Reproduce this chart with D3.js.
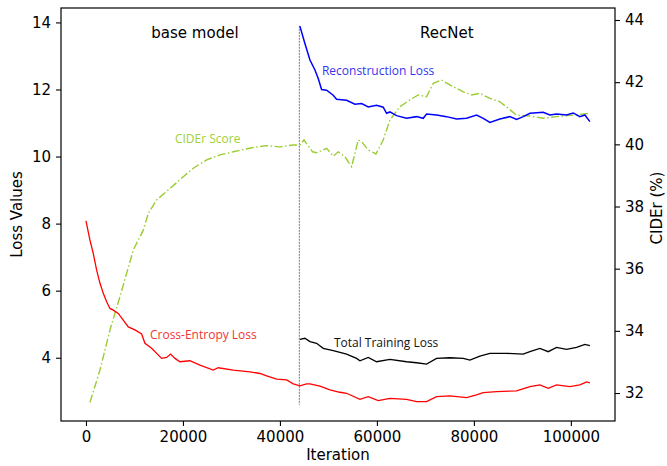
<!DOCTYPE html>
<html>
<head>
<meta charset="utf-8">
<script src="https://cdn.jsdelivr.net/npm/d3@7"></script>
<style>
  body { margin: 0; background: #fff; }
  svg { display: block; }
  .tick text { font-family: "DejaVu Sans", sans-serif; font-size: 15px; fill: #000; }
</style>
</head>
<body>
<div id="chart"></div>
<script>
// loss curves (iteration, value)
const crossEntropy = [
  [0, 8.08], [820, 7.51], [1500, 7.11], [2200, 6.61], [2890, 6.22], [3570, 5.92], [4260, 5.67],
  [4950, 5.47], [5630, 5.42], [6660, 5.32], [7690, 5.12], [8720, 4.92], [10100, 4.83], [11480, 4.71],
  [12160, 4.43], [13540, 4.28], [15600, 3.98], [16640, 4.01], [17460, 4.11], [18350, 3.98], [19380, 3.88],
  [21440, 3.91], [23500, 3.78], [26250, 3.63], [27280, 3.70], [30370, 3.63], [33810, 3.58],
  [35880, 3.53], [37250, 3.46], [39310, 3.36], [41380, 3.34], [42750, 3.22], [44120, 3.16],
  [45500, 3.22], [46190, 3.22], [48250, 3.15], [50310, 3.04], [52370, 2.97], [53750, 2.94],
  [56500, 2.76], [58210, 2.84], [60270, 2.72], [62680, 2.79], [66120, 2.76], [68180, 2.69],
  [70240, 2.69], [72300, 2.84], [75050, 2.86], [78490, 2.81], [80550, 2.89], [81930, 2.96],
  [84680, 2.99], [88800, 3.01], [91550, 3.14], [93610, 3.19], [95330, 3.09], [97040, 3.19],
  [99790, 3.14], [101860, 3.19], [103230, 3.28], [103920, 3.25]
];

const totalLoss = [
  [44120, 4.55], [45150, 4.58], [46190, 4.48], [47560, 4.43], [48930, 4.28], [50990, 4.21],
  [53750, 4.11], [55810, 3.98], [56500, 3.91], [58210, 4.01], [59930, 3.88], [62680, 3.95],
  [66120, 3.88], [68180, 3.85], [70240, 3.81], [72300, 3.98], [75050, 4.00], [77800, 3.98],
  [79180, 3.93], [81240, 4.05], [83300, 4.13], [86740, 4.13], [90170, 4.11], [91550, 4.18],
  [93610, 4.28], [95330, 4.18], [97040, 4.31], [99100, 4.25], [101170, 4.31], [102890, 4.40],
  [103920, 4.36]
];

const reconLoss = [
  [44120, 13.89], [45150, 13.37], [46190, 12.88], [47220, 12.58], [47900, 12.33], [48590, 12.00],
  [49620, 11.98], [50990, 11.83], [51680, 11.71], [53750, 11.68], [55460, 11.56], [56840, 11.58],
  [58210, 11.48], [59930, 11.53], [61300, 11.47], [61990, 11.29], [62680, 11.33], [64050, 11.22],
  [66120, 11.14], [68180, 11.19], [69550, 11.14], [70240, 11.27], [72300, 11.24], [74360, 11.19],
  [76430, 11.12], [78490, 11.14], [80550, 11.24], [81930, 11.14], [83300, 11.02], [85360, 11.12],
  [87420, 11.19], [88800, 11.11], [90170, 11.19], [91550, 11.29], [94300, 11.32], [95670, 11.24],
  [97040, 11.27], [99100, 11.24], [100480, 11.30], [101860, 11.19], [102890, 11.24], [103920, 11.04]
];

// CIDEr score on the right axis (%)
const ciderScore = [
  [820, 31.70], [2890, 32.74], [4950, 34.03], [7010, 35.10], [9760, 36.60], [11820, 37.24],
  [12850, 37.78], [14570, 38.21], [17320, 38.58], [20070, 38.96], [22130, 39.23], [24880, 39.50],
  [27630, 39.66], [30370, 39.76], [34500, 39.90], [37250, 39.96], [40000, 39.92], [42750, 39.98],
  [44120, 39.98], [44950, 40.14], [46740, 39.76], [47560, 39.73], [49620, 39.87], [50990, 39.62],
  [52030, 39.76], [53400, 39.60], [54780, 39.28], [56150, 40.14], [56840, 40.08], [58210, 39.82],
  [59800, 39.69], [61300, 40.14], [62680, 40.78], [64740, 41.21], [66800, 41.43], [68520, 41.59],
  [70240, 41.53], [71610, 41.96], [73330, 42.07], [75050, 41.91], [77800, 41.69], [79520, 41.59],
  [81240, 41.64], [83300, 41.48], [85360, 41.37], [87080, 41.16], [88800, 40.94], [91550, 40.91],
  [94300, 40.84], [97040, 40.89], [100480, 40.94], [103920, 41.00]
];

const xTicks = [0, 20000, 40000, 60000, 80000, 100000];
const lossTicks = [4, 6, 8, 10, 12, 14];
const ciderTicks = [32, 34, 36, 38, 40, 42, 44];
const switchIter = 44000;

const W = 667, H = 466;
const margin = { top: 8, right: 52, bottom: 45, left: 61 };
const width = W - margin.left - margin.right;
const height = H - margin.top - margin.bottom;

const svg = d3.select('#chart').append('svg')
  .attr('width', W).attr('height', H);
const g = svg.append('g').attr('transform', `translate(${margin.left},${margin.top})`);

const x = d3.scaleLinear().domain([-5150, 109100]).range([0, width]);
const yL = d3.scaleLinear().domain([2.113, 14.43]).range([height, 0]);
const yR = d3.scaleLinear().domain([31.1, 44.386]).range([height, 0]);

// axes
const xAxis = g.append('g').attr('transform', `translate(0,${height})`)
  .call(d3.axisBottom(x).tickValues(xTicks).tickFormat(d3.format('d')).tickSize(5).tickPadding(5));
const lAxis = g.append('g')
  .call(d3.axisLeft(yL).tickValues(lossTicks).tickSize(5).tickPadding(5));
const rAxis = g.append('g').attr('transform', `translate(${width},0)`)
  .call(d3.axisRight(yR).tickValues(ciderTicks).tickSize(5).tickPadding(5));
[xAxis, lAxis, rAxis].forEach(a => {
  a.select('.domain').remove();
  a.selectAll('.tick line').attr('stroke', '#000').attr('stroke-width', 1.1);
});

// vertical switch line
g.append('line')
  .attr('x1', x(switchIter)).attr('x2', x(switchIter))
  .attr('y1', yL(13.9)).attr('y2', yL(2.6))
  .attr('stroke', '#777').attr('stroke-width', 1)
  .attr('stroke-dasharray', '2,1');

const lineL = d3.line().x(d => x(d[0])).y(d => yL(d[1]));
const lineR = d3.line().x(d => x(d[0])).y(d => yR(d[1]));

g.append('path').datum(ciderScore).attr('d', lineR)
  .attr('fill', 'none').attr('stroke', '#9acd32').attr('stroke-width', 1.4)
  .attr('stroke-dasharray', '8,2.5,1.5,2.5');
g.append('path').datum(crossEntropy).attr('d', lineL)
  .attr('fill', 'none').attr('stroke', '#ff0000').attr('stroke-width', 1.3);
g.append('path').datum(totalLoss).attr('d', lineL)
  .attr('fill', 'none').attr('stroke', '#000').attr('stroke-width', 1.3);
g.append('path').datum(reconLoss).attr('d', lineL)
  .attr('fill', 'none').attr('stroke', '#0000ff').attr('stroke-width', 1.5);

// spines
g.append('rect').attr('width', width).attr('height', height)
  .attr('fill', 'none').attr('stroke', '#000').attr('stroke-width', 1.2);

// annotations
const notes = [
  { t: 'base model', x: 22470, y: 13.68, c: '#000', anchor: 'middle', big: true },
  { t: 'RecNet', x: 74430, y: 13.68, c: '#000', anchor: 'middle', big: true },
  { t: 'Reconstruction Loss', x: 48660, y: 12.55, c: '#3535f0', anchor: 'start' },
  { t: 'CIDEr Score', x: 18350, y: 10.52, c: '#a0d03a', anchor: 'start' },
  { t: 'Cross-Entropy Loss', x: 13200, y: 4.68, c: '#f03535', anchor: 'start' },
  { t: 'Total Training Loss', x: 51130, y: 4.44, c: '#111', anchor: 'start' }
];
notes.forEach(n => {
  g.append('text')
    .attr('x', x(n.x)).attr('y', yL(n.y))
    .attr('dy', '0.35em')
    .attr('text-anchor', n.anchor)
    .attr('font-family', n.big ? '"DejaVu Sans", sans-serif' : '"Open Sans", sans-serif')
    .attr('font-size', n.big ? '15px' : '12px')
    .attr('fill', n.c)
    .text(n.t);
});

// axis titles
svg.append('text')
  .attr('x', margin.left + width / 2).attr('y', H - 6)
  .attr('text-anchor', 'middle')
  .attr('font-family', '"DejaVu Sans", sans-serif').attr('font-size', '15px')
  .text('Iteration');
svg.append('text')
  .attr('transform', `translate(22,${margin.top + height / 2}) rotate(-90)`)
  .attr('text-anchor', 'middle')
  .attr('font-family', '"DejaVu Sans", sans-serif').attr('font-size', '15px')
  .text('Loss Values');
svg.append('text')
  .attr('transform', `translate(662,208) rotate(-90)`)
  .attr('text-anchor', 'middle')
  .attr('font-family', '"DejaVu Sans", sans-serif').attr('font-size', '15px')
  .text('CIDEr (%)');
</script>
</body>
</html>
